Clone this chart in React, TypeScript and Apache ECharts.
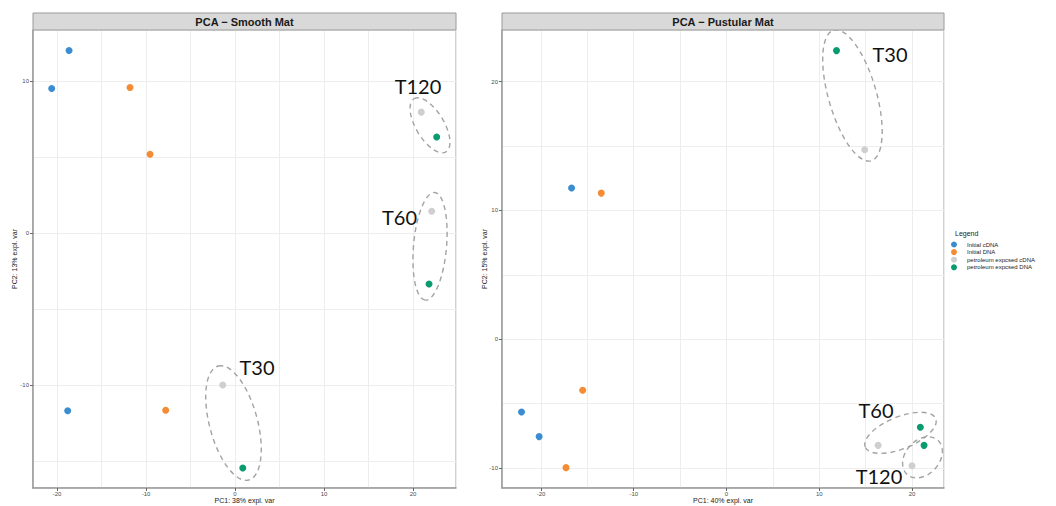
import React, { useEffect, useRef } from "react";
import * as echarts from "echarts";

// ---------- data ----------
const groupNames = ["Initial cDNA", "Initial DNA", "petroleum expcsed cDNA", "petroleum expcsed DNA"];
const groupColors = ["#3a8dd1", "#f58b33", "#cfcfcf", "#0a9b70"];

const panelTitles = ["PCA \u2212 Smooth Mat", "PCA \u2212 Pustular Mat"];
const xNames = ["PC1: 38% expl. var", "PC1: 40% expl. var"];
const yNames = ["PC2: 13% expl. var", "PC2: 15% expl. var"];
const xTicksL = [-20, -10, 0, 10, 20];
const yTicksL = [-10, 0, 10];
const xTicksR = [-20, -10, 0, 10, 20];
const yTicksR = [-10, 0, 10, 20];

// Smooth mat
const smoothInitialCDNA = [[-18.65, 12.04], [-20.6, 9.54], [-18.8, -11.69]];
const smoothInitialDNA = [[-11.8, 9.6], [-9.55, 5.2], [-7.79, -11.66]];
const smoothPetroCDNA = [[20.93, 7.98], [22.1, 1.45], [-1.38, -10.0]];
const smoothPetroDNA = [[22.66, 6.34], [21.8, -3.34], [0.87, -15.46]];

// Pustular mat
const pustInitialCDNA = [[-16.7, 11.73], [-22.1, -5.65], [-20.2, -7.56]];
const pustInitialDNA = [[-13.5, 11.34], [-15.5, -3.96], [-17.3, -9.97]];
const pustPetroCDNA = [[14.9, 14.71], [16.35, -8.24], [20.0, -9.82]];
const pustPetroDNA = [[11.86, 22.4], [20.9, -6.84], [21.3, -8.24]];

// ellipse annotations: [centerX, centerY, semiMajorPx, semiMinorPx, rotationDeg]
const smoothEllipses = [[21.91, 7.11, 31, 14, -59], [21.91, -0.86, 54, 16.5, 85], [-0.17, -12.5, 59, 24, -75]];
const pustEllipses = [[13.58, 18.92, 68, 24, -74], [18.76, -7.27, 38, 16, 22], [21.13, -9.17, 23, 17, 48]];
const smoothLabelText = ["T120", "T60", "T30"];
const smoothLabelPos = [[20.56, 9.7], [18.48, 1.09], [2.47, -8.78]];
const pustLabelText = ["T30", "T60", "T120"];
const pustLabelPos = [[17.63, 22.11], [16.12, -5.48], [16.44, -10.61]];

const xRange = [[-22.7, 24.83], [-24.2, 23.45]];
const yRange = [[-16.78, 13.39], [-11.55, 24.0]];

// ---------- layout ----------
const grids = [
  { left: 33, top: 30, width: 423, height: 458 },
  { left: 502, top: 30, width: 442, height: 458 },
];
const FONT = "Liberation Sans";

export default function App() {
  const ref = useRef<HTMLDivElement>(null);
  useEffect(() => {
    if (!ref.current) return;
    const chart = echarts.init(ref.current, null, { renderer: "svg" });

    const panelData = [
      [smoothInitialCDNA, smoothInitialDNA, smoothPetroCDNA, smoothPetroDNA],
      [pustInitialCDNA, pustInitialDNA, pustPetroCDNA, pustPetroDNA],
    ];
    const ellipses = [smoothEllipses, pustEllipses];
    const labelTexts = [smoothLabelText, pustLabelText];
    const labelPos = [smoothLabelPos, pustLabelPos];
    const xTicks = [xTicksL, xTicksR];
    const yTicks = [yTicksL, yTicksR];
    const yNameGap = [15, 14];

    const series: any[] = [];
    [0, 1].forEach((p) => {
      series.push({
        type: "custom",
        name: "ellipses" + p,
        xAxisIndex: p,
        yAxisIndex: p,
        clip: false,
        silent: true,
        z: 1,
        encode: { x: 0, y: 1 },
        data: ellipses[p],
        renderItem: (params: any, api: any) => {
          const c = api.coord([api.value(0), api.value(1)]);
          return {
            type: "ellipse",
            x: c[0],
            y: c[1],
            rotation: (api.value(4) * Math.PI) / 180,
            shape: { cx: 0, cy: 0, rx: api.value(2), ry: api.value(3) },
            style: { fill: "none", stroke: "#a3a3a3", lineWidth: 1.4, lineDash: [5, 4] },
          };
        },
      });
      series.push({
        type: "custom",
        name: "labels" + p,
        xAxisIndex: p,
        yAxisIndex: p,
        clip: false,
        silent: true,
        z: 3,
        encode: { x: 0, y: 1 },
        data: labelPos[p],
        renderItem: (params: any, api: any) => {
          const c = api.coord([api.value(0), api.value(1)]);
          return {
            type: "text",
            x: c[0],
            y: c[1],
            style: {
              text: labelTexts[p][params.dataIndex],
              fontSize: 20,
              fontFamily: "Lato",
              fill: "#111",
              align: "center",
              verticalAlign: "middle",
            },
          };
        },
      });
      groupNames.forEach((g, gi) => {
        series.push({
          type: "scatter",
          name: g,
          xAxisIndex: p,
          yAxisIndex: p,
          data: panelData[p][gi],
          symbolSize: 7,
          z: 2,
          itemStyle: { color: groupColors[gi], opacity: 1 },
        });
      });
    });

    const axisCommon = (ticks: number[]) => ({
      type: "value",
      axisLine: { show: true, onZero: false, lineStyle: { color: "#9a9a9a", width: 1.5 } },
      axisTick: { show: true, customValues: ticks, length: 3, lineStyle: { color: "#666" } },
      axisLabel: { customValues: ticks, fontSize: 6, color: "#4d4d4d", fontFamily: FONT },
      splitLine: { show: false },
      nameTextStyle: { fontSize: 7, color: "#1a1a1a", fontFamily: FONT },
      nameLocation: "middle",
      nameMoveOverlap: false,
      z: 5,
    });
    // background grid axes (lines every 5 units)
    const gridAxis = (p: number, range: number[], splitNumber: number) => ({
      type: "value",
      gridIndex: p,
      min: range[0],
      max: range[1],
      splitNumber,
      axisLine: { show: false },
      axisTick: { show: false },
      axisLabel: { show: false },
      splitLine: { show: true, lineStyle: { color: "#ededed", width: 1 } },
      z: 0,
    });

    const xAxis: any[] = [0, 1].map((p) => {
      const a: any = axisCommon(xTicks[p]);
      a.gridIndex = p;
      a.min = xRange[p][0];
      a.max = xRange[p][1];
      a.splitNumber = 10;
      a.name = xNames[p];
      a.nameGap = 9;
      a.axisLabel.margin = 3;
      return a;
    });
    const yAxis: any[] = [0, 1].map((p) => {
      const a: any = axisCommon(yTicks[p]);
      a.gridIndex = p;
      a.min = yRange[p][0];
      a.max = yRange[p][1];
      a.splitNumber = p === 0 ? 6 : 7;
      a.name = yNames[p];
      a.nameGap = yNameGap[p];
      a.axisLabel.margin = 4;
      return a;
    });
    xAxis.push(gridAxis(0, xRange[0], 10), gridAxis(1, xRange[1], 10));
    yAxis.push(gridAxis(0, yRange[0], 6), gridAxis(1, yRange[1], 7));

    const graphic: any[] = [];
    [0, 1].forEach((p) => {
      const g = grids[p];
      graphic.push({
        type: "rect",
        shape: { x: g.left, y: 13, width: g.width, height: 17 },
        style: { fill: "#d9d9d9", stroke: "#9a9a9a", lineWidth: 1 },
        z: 10,
      });
      graphic.push({
        type: "text",
        x: g.left + g.width / 2,
        y: 21.5,
        style: {
          text: panelTitles[p],
          fontSize: 11,
          fontWeight: "bold",
          fontFamily: FONT,
          fill: "#1a1a1a",
          align: "center",
          verticalAlign: "middle",
        },
        z: 11,
      });
    });
    graphic.push({
      type: "text",
      x: 955,
      y: 233,
      style: { text: "Legend", fontSize: 7, fontFamily: FONT, fill: "#1a1a1a", align: "left", verticalAlign: "middle" },
    });

    chart.setOption({
      animation: false,
      backgroundColor: "#ffffff",
      grid: grids.map((g) => ({
        ...g,
        show: true,
        borderColor: "#a0a0a0",
        borderWidth: 1,
        backgroundColor: "#ffffff",
        containLabel: false,
        outerBoundsMode: "none",
      })),
      xAxis,
      yAxis,
      legend: {
        data: groupNames,
        orient: "vertical",
        left: 951,
        top: 241.5,
        padding: 0,
        itemWidth: 16,
        itemHeight: 6,
        itemGap: 1.6,
        icon: "circle",
        selectedMode: false,
        textStyle: { fontSize: 6, color: "#1a1a1a", fontFamily: FONT, padding: [0, 0, 0, 0] },
      },
      graphic,
      series,
    });

    return () => chart.dispose();
  }, []);

  return (
    <div
      ref={ref}
      style={{ position: "absolute", left: 0, top: 0, width: 1056, height: 506, background: "#fff" }}
    />
  );
}
